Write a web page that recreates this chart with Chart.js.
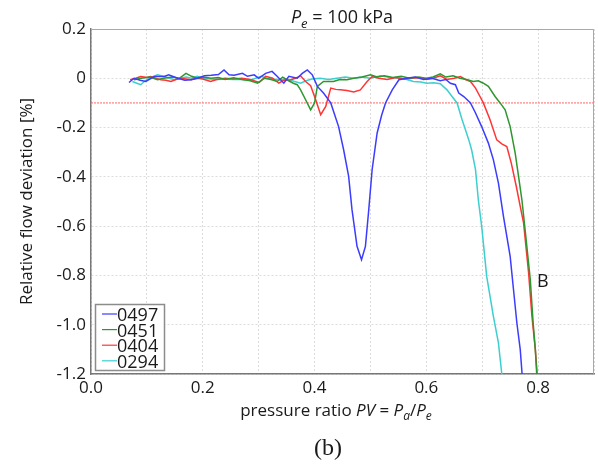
<!DOCTYPE html>
<html>
<head>
<meta charset="utf-8">
<script src="https://cdn.jsdelivr.net/npm/chart.js@4/dist/chart.umd.min.js"></script>
<style>
  body { margin: 0; background: #fff; }
  canvas { display: block; }
</style>
</head>
<body>
<canvas id="chart" width="598" height="464"></canvas>
<script>
// values (x = pressure ratio, y = deviation %)
const seriesNames = ['0497', '0451', '0404', '0294'];
const seriesColors = ['#3c3cff', '#2f962f', '#ff3535', '#3ccfcf'];

const x0497 = [0.068,0.077,0.088,0.098,0.113,0.131,0.139,0.155,0.168,0.179,0.19,0.203,0.215,0.228,0.238,0.247,0.256,0.271,0.28,0.292,0.3,0.3125,0.324,0.333,0.345,0.354,0.369,0.378,0.387,0.396,0.405,0.416,0.429,0.443,0.452,0.461,0.467,0.476,0.484,0.491,0.497,0.503,0.512,0.52,0.527,0.539,0.551,0.565,0.58,0.595,0.61,0.625,0.635,0.643,0.652,0.658,0.667,0.679,0.688,0.699,0.711,0.72,0.729,0.738,0.75,0.756,0.762,0.768,0.772];
const y0497 = [-0.017,0.0,-0.008,-0.013,0.007,0.007,0.014,0.0,-0.008,-0.006,0.0,0.01,0.012,0.015,0.034,0.014,0.012,0.02,0.008,0.014,0.0,0.02,0.028,0.008,-0.02,0.008,0.0,0.02,0.034,0.014,-0.033,-0.06,-0.1,-0.196,-0.29,-0.398,-0.533,-0.682,-0.736,-0.682,-0.533,-0.371,-0.222,-0.15,-0.1,-0.047,-0.006,0.0,0.005,-0.005,0.0,-0.01,-0.005,-0.02,-0.026,-0.06,-0.074,-0.1,-0.141,-0.196,-0.263,-0.331,-0.425,-0.56,-0.723,-0.858,-0.993,-1.1,-1.22];

const x0451 = [0.077,0.09,0.105,0.119,0.13,0.145,0.158,0.17,0.18,0.19,0.2,0.215,0.228,0.24,0.255,0.27,0.285,0.298,0.31,0.322,0.333,0.343,0.352,0.362,0.369,0.375,0.384,0.393,0.4,0.405,0.416,0.434,0.445,0.458,0.47,0.485,0.5,0.512,0.525,0.54,0.555,0.57,0.585,0.6,0.612,0.625,0.635,0.648,0.66,0.672,0.684,0.693,0.702,0.711,0.723,0.732,0.741,0.75,0.759,0.765,0.771,0.777,0.786,0.791,0.795,0.798];
const y0451 = [-0.006,0.0,0.005,-0.006,0.0,0.005,0.0,0.02,0.008,0.0,0.005,0.0,0.003,-0.005,0.002,-0.005,-0.01,-0.02,0.0,-0.005,-0.013,0.005,-0.008,-0.02,-0.026,-0.047,-0.087,-0.128,-0.1,-0.033,-0.013,-0.013,-0.005,-0.006,0.0,0.005,0.014,0.005,0.01,0.003,0.008,0.0,0.005,0.0,0.005,0.018,0.005,0.01,0.0,-0.005,-0.013,-0.01,-0.02,-0.033,-0.074,-0.1,-0.128,-0.196,-0.304,-0.398,-0.493,-0.62,-0.817,-0.99,-1.1,-1.22];

const x0404 = [0.07,0.08,0.089,0.1,0.107,0.116,0.125,0.134,0.143,0.152,0.161,0.17,0.179,0.19,0.2,0.214,0.225,0.24,0.255,0.27,0.285,0.301,0.3125,0.325,0.336,0.345,0.357,0.366,0.375,0.384,0.393,0.402,0.411,0.42,0.429,0.438,0.446,0.458,0.47,0.482,0.494,0.503,0.515,0.53,0.545,0.56,0.575,0.59,0.6,0.612,0.625,0.637,0.65,0.661,0.67,0.679,0.688,0.696,0.702,0.714,0.726,0.735,0.744,0.752,0.761,0.768,0.774,0.783,0.789,0.795,0.799];
const y0404 = [-0.006,0.0,0.007,0.003,0.007,0.0,-0.006,-0.008,-0.013,-0.005,0.0,-0.003,-0.006,0.0,-0.003,-0.013,-0.005,0.0,-0.003,0.0,-0.005,-0.017,0.008,0.0,-0.02,-0.008,-0.006,0.0,0.01,-0.013,-0.03,-0.087,-0.148,-0.114,-0.04,-0.045,-0.047,-0.05,-0.056,-0.047,-0.013,0.007,0.0,-0.005,0.003,-0.003,0.0,0.003,-0.005,0.0,0.01,-0.005,0.0,0.007,-0.005,-0.013,-0.04,-0.074,-0.1,-0.168,-0.25,-0.266,-0.277,-0.344,-0.439,-0.52,-0.587,-0.79,-0.966,-1.1,-1.22];

const x0294 = [0.074,0.082,0.089,0.097,0.104,0.119,0.131,0.14,0.149,0.16,0.17,0.18,0.19,0.2,0.213,0.227,0.24,0.255,0.27,0.285,0.304,0.315,0.33,0.345,0.36,0.375,0.385,0.395,0.41,0.425,0.44,0.455,0.47,0.485,0.5,0.518,0.535,0.554,0.565,0.577,0.59,0.601,0.613,0.625,0.637,0.646,0.655,0.664,0.67,0.676,0.681,0.688,0.693,0.699,0.708,0.72,0.729,0.736];
const y0294 = [-0.013,-0.02,-0.026,-0.01,0.0,0.014,0.007,0.0,-0.006,0.0,0.005,0.0,0.008,0.0,-0.003,-0.005,-0.003,-0.005,-0.005,-0.008,0.008,0.0,-0.005,-0.005,-0.01,-0.02,-0.01,-0.003,0.0,-0.005,0.0,0.005,0.0,0.005,0.0,0.01,0.003,0.0,-0.005,-0.013,-0.015,-0.02,-0.018,-0.022,-0.047,-0.074,-0.1,-0.168,-0.209,-0.25,-0.29,-0.371,-0.493,-0.6,-0.804,-0.966,-1.074,-1.22];

const thresholdY = -0.1;   // red dotted limit line
const labelB = { x: 0.798, y: -0.845, text: 'B' };

const FONT = '"Open Sans", "DejaVu Sans", sans-serif';
const INK = '#1a1a1a';

function pts(xs, ys) {
  return xs.map((x, i) => ({ x: x, y: ys[i] }));
}

// draws a line of mixed normal / italic / subscript runs centred on cx
function drawRich(ctx, parts, cx, baseline, size) {
  const fontOf = p => (p.italic ? 'italic ' : '') + (p.sub ? Math.round(size * 0.72) : size) + 'px ' + FONT;
  let total = 0;
  parts.forEach(p => { ctx.font = fontOf(p); p.w = ctx.measureText(p.t).width; total += p.w; });
  let x = cx - total / 2;
  ctx.textAlign = 'left';
  ctx.textBaseline = 'alphabetic';
  parts.forEach(p => {
    ctx.font = fontOf(p);
    ctx.fillText(p.t, x, baseline + (p.sub ? size * 0.25 : 0));
    x += p.w;
  });
}

const extras = {
  id: 'extras',
  afterDraw(chart) {
    const ctx = chart.ctx;
    const a = chart.chartArea;
    const xs = chart.scales.x, ys = chart.scales.y;
    ctx.save();
    // frame top / right
    ctx.strokeStyle = '#a8a8a8';
    ctx.lineWidth = 1;
    ctx.beginPath();
    ctx.moveTo(a.left, a.top + 0.5);
    ctx.lineTo(a.right - 0.5, a.top + 0.5);
    ctx.lineTo(a.right - 0.5, a.bottom);
    ctx.stroke();

    ctx.fillStyle = INK;
    // title
    drawRich(ctx, [
      { t: 'P', italic: true }, { t: 'e', italic: true, sub: true }, { t: ' = 100 kPa' }
    ], 342, 23, 18);
    // x axis title
    drawRich(ctx, [
      { t: 'pressure ratio ' }, { t: 'PV', italic: true }, { t: ' = ' },
      { t: 'P', italic: true }, { t: 'a', italic: true, sub: true }, { t: '/' },
      { t: 'P', italic: true }, { t: 'e', italic: true, sub: true }
    ], 336, 416, 17);
    // panel label
    ctx.font = '24px "Liberation Serif", serif';
    ctx.textAlign = 'center';
    ctx.fillText('(b)', 328, 455);
    // B marker
    ctx.font = '18px ' + FONT;
    ctx.textAlign = 'left';
    ctx.fillText(labelB.text, xs.getPixelForValue(labelB.x), ys.getPixelForValue(labelB.y));

    // legend box, lower left inside the plot
    const bx = 95, by = 304, bw = 69, bh = 66;
    ctx.fillStyle = '#fff';
    ctx.fillRect(bx, by, bw, bh);
    ctx.strokeStyle = '#8c8c8c';
    ctx.lineWidth = 1.5;
    ctx.strokeRect(bx + 0.5, by + 0.5, bw, bh);
    seriesNames.forEach((name, i) => {
      const cy = 315 + i * 15.6;
      ctx.strokeStyle = seriesColors[i];
      ctx.lineWidth = 1.2;
      ctx.beginPath();
      ctx.moveTo(102, cy - 1);
      ctx.lineTo(117, cy - 1);
      ctx.stroke();
      ctx.fillStyle = INK;
      ctx.font = '18px ' + FONT;
      ctx.textBaseline = 'middle';
      ctx.fillText(name, 117, cy + 1);
    });
    ctx.restore();
  }
};

const seriesX = [x0497, x0451, x0404, x0294];
const seriesY = [y0497, y0451, y0404, y0294];

const datasets = seriesNames.map((name, i) => ({
  label: name,
  data: pts(seriesX[i], seriesY[i]),
  borderColor: seriesColors[i],
  borderWidth: 1.5,
  pointRadius: 0,
  tension: 0,
  fill: false
}));
datasets.push({
  label: 'limit',
  data: [{ x: 0, y: thresholdY }, { x: 0.9, y: thresholdY }],
  borderColor: '#ff6666',
  borderWidth: 1,
  borderDash: [2, 1],
  pointRadius: 0,
  fill: false
});

new Chart(document.getElementById('chart').getContext('2d'), {
  type: 'line',
  data: { datasets },
  plugins: [extras],
  options: {
    responsive: false,
    animation: false,
    layout: { padding: { top: 29, right: 3, left: 0, bottom: 0 } },
    plugins: { legend: { display: false }, title: { display: false }, tooltip: { enabled: false } },
    scales: {
      x: {
        type: 'linear',
        min: 0, max: 0.9,
        afterFit: s => { s.height = 90; },
        border: { display: true, color: '#777', width: 1.5, dash: [2, 2] },
        grid: { color: '#dcdcdc', lineWidth: 1, drawTicks: false },
        ticks: {
          stepSize: 0.1, autoSkip: false, maxRotation: 0, padding: 4,
          color: INK, font: { family: FONT, size: 17 },
          callback: (v, i) => (i % 2 === 0 ? (Math.round(v * 10) / 10).toFixed(1) : '')
        }
      },
      y: {
        type: 'linear',
        min: -1.2, max: 0.2,
        afterFit: s => { s.width = 91; },
        border: { display: true, color: '#777', width: 1.5, dash: [2, 2] },
        grid: { color: '#dcdcdc', lineWidth: 1, drawTicks: false },
        ticks: {
          stepSize: 0.2, padding: 5,
          color: INK, font: { family: FONT, size: 17 },
          callback: v => {
            const r = Math.round(v * 10) / 10;
            return r === 0 ? '0' : r.toFixed(1);
          }
        },
        title: {
          display: true,
          text: 'Relative flow deviation [%]',
          color: INK,
          font: { family: FONT, size: 17 },
          padding: { top: 17, bottom: 0 }
        }
      }
    }
  }
});
</script>
</body>
</html>
